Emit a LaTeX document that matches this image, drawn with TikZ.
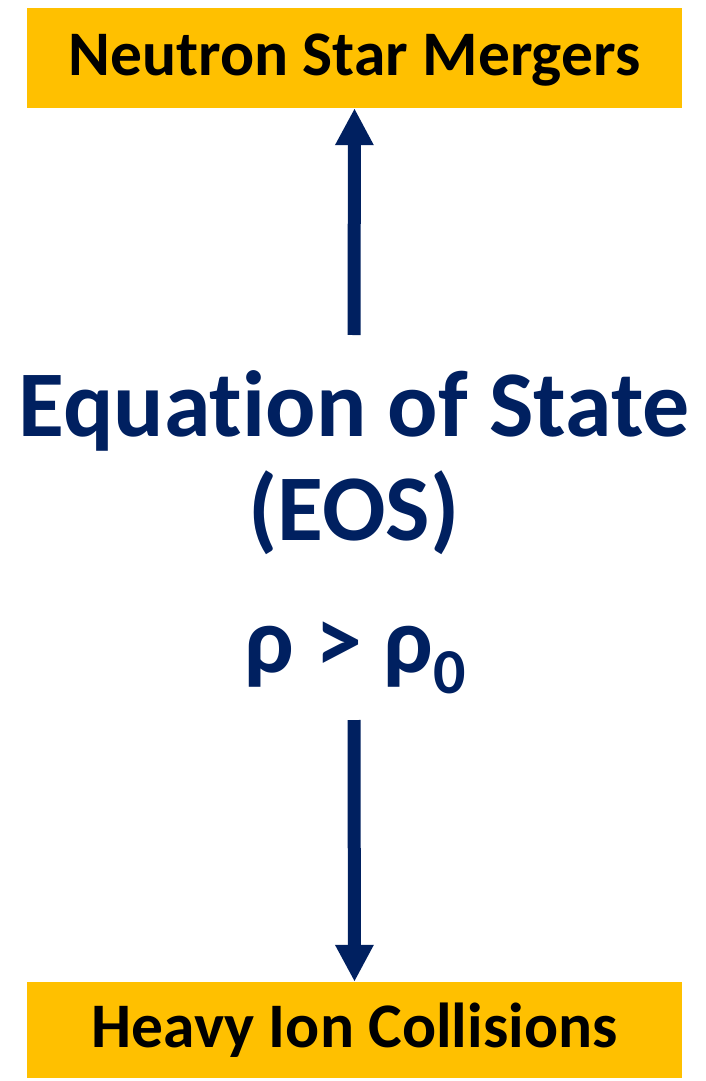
\documentclass[tikz,border=0pt]{standalone}
\usepackage{fontspec}
\setmainfont{Carlito}[Ligatures=NoCommon]
\usepackage{tikz}
\usetikzlibrary{arrows.meta}
\definecolor{navy}{HTML}{002060}
\definecolor{gold}{HTML}{FFC000}

\begin{document}
\begin{tikzpicture}[x=1pt,y=-1pt,
  goalbox/.style={fill=gold,minimum width=655pt,minimum height=100pt,inner sep=0pt,
    text height=40pt,text depth=5pt,font=\fontsize{63.5}{63.5}\selectfont\bfseries},
  bigtext/.style={text=navy,inner sep=0pt,align=center,font=\fontsize{94}{104}\selectfont\bfseries},
  flow/.style={draw=navy,line width=13pt,-{Triangle[width=36pt,length=37pt]}}]
  \useasboundingbox (0,0) rectangle (706,1081);
  \node[goalbox] (nsm) at (354.5,58) {Neutron Star Mergers};
  \node[goalbox,minimum height=96pt] (hic) at (354.5,1030) {Heavy Ion Collisions};
  \node[bigtext,anchor=base] (eos) at (354,540) {Equation of State\\(EOS)};
  \node[bigtext,anchor=base] (rho) at (355,672) {ρ > ρ\raisebox{-0.23em}{\fontsize{64}{64}\selectfont 0}};
  \coordinate (upstart) at (354,335);
  \coordinate (downstart) at (354,720);
  \draw[flow] (upstart) -- (nsm.south);
  \draw[flow] (downstart) -- (hic.north);
\end{tikzpicture}
\end{document}
